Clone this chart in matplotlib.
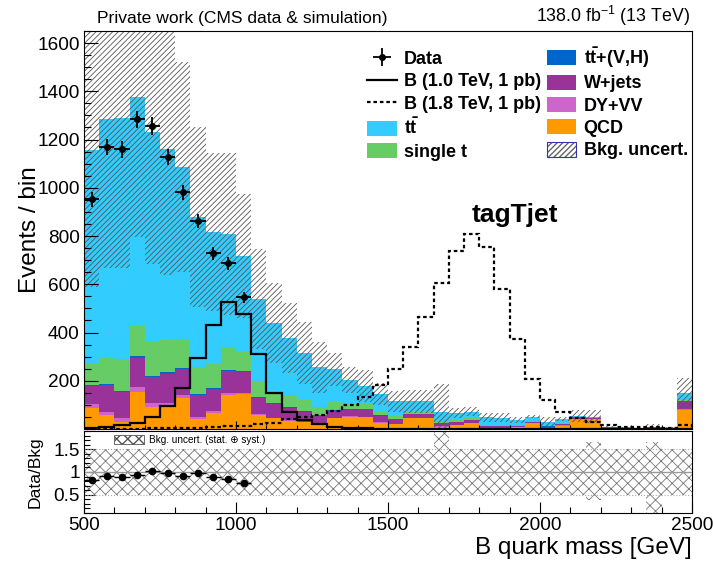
import numpy as np
import matplotlib
matplotlib.use('Agg')
import matplotlib.pyplot as plt
from matplotlib.patches import Patch
from matplotlib.lines import Line2D
from matplotlib.ticker import MultipleLocator, FixedLocator, FuncFormatter
from matplotlib.legend_handler import HandlerTuple

plt.rcParams['font.family'] = ['Liberation Sans', 'DejaVu Sans']
plt.rcParams['mathtext.fontset'] = 'custom'
plt.rcParams['mathtext.rm'] = 'Liberation Sans'
plt.rcParams['mathtext.bf'] = 'Liberation Sans:bold'
plt.rcParams['mathtext.it'] = 'Liberation Sans:italic'

# ---------------- data ----------------
x_min, x_max, n_bins = 500, 2500, 40

qcd = [88, 58, 30, 155, 90, 93, 128, 40, 65, 141, 144, 58, 44, 34, 28, 24, 44, 51, 48, 26,
       20, 45, 45, 10, 17, 24, 5, 5, 8, 24, 3, 14, 40, 40, 3, 2, 1, 3, 1.5, 79]
dyvv = [16, 14, 17, 18, 16, 16, 13, 11, 10, 7, 6, 4, 3, 3, 2, 2, 2, 2, 2, 2,
        2, 2, 2, 2, 1, 1, 1, 1, 1, 1, 1, 1, 1, 1, 0.5, 0.5, 0.3, 0.5, 0.3, 3]
wjets = [74, 110, 108, 123, 108, 120, 106, 89, 90, 92, 86, 68, 57, 51, 42, 32, 30, 26, 32, 26,
         18, 16, 16, 12, 12, 12, 6, 5, 4, 5, 6, 6, 7, 6, 3, 2, 1.5, 3, 2, 35]
ttvh = [4, 5, 4, 5, 6, 6, 6, 5, 5, 6, 4, 3, 2, 2, 2, 2, 2, 2, 2, 2,
        1, 1, 1, 1, 1, 1, 0.5, 0.5, 0.5, 0.5, 0.5, 0.5, 0.5, 0.5, 0.2, 0.2, 0.2, 0.2, 0.2, 1]
single_t = [90, 107, 130, 129, 144, 134, 119, 111, 99, 93, 78, 67, 38, 51, 46, 32, 33, 25, 25, 16,
            14, 8, 8, 5, 6, 6, 4.5, 5, 2, 2, 2, 1.5, 1, 1, 1, 1, 0.5, 1, 0.5, 5]
ttbar = [884, 990, 1000, 945, 868, 790, 715, 621, 547, 469, 399, 339, 294, 235, 196, 164, 136, 97, 69, 73,
         60, 43, 43, 42, 28, 28, 31, 31, 21.5, 18.5, 17.5, 17, 4.5, 2.5, 2.3, 2.3, 1.5, 2.3, 1.5, 25]

bkg_unc = [566, 618, 623, 578, 550, 520, 435, 373, 327, 335, 257, 208, 166, 145, 129, 106, 67, 55, 67, 44,
           43, 47, 47, 114, 20, 20, 17, 17, 11, 7, 18, 8, 25, 28, 2, 2, 2, 11, 2, 62]

ratio_unc_up = [0.5] * 23 + [1.3] + [0.5] * 9 + [0.65] + [0.5] * 3 + [0.65] + [0.5] * 2
ratio_unc_dn = [0.5] * 23 + [0.5] + [0.5] * 9 + [0.62] + [0.5] * 3 + [1.0] + [0.5] * 2

data = [952, 1170, 1159, 1284, 1256, 1126, 981, 863, 728, 687, 546]

sig_b10 = [3, 7, 15, 26, 51, 94, 169, 293, 432, 525, 478, 311, 149, 70, 37, 19, 10, 5, 3, 2,
           2, 1, 1, 1, 1, 1, 1, 1, 1, 1, 1, 1, 1, 1, 1, 1, 1, 1, 1, 2]
sig_b18 = [0, 0, 1, 2, 3, 3, 4, 5, 8, 11, 14, 21, 26, 40, 51, 58, 75, 99, 132, 182,
           250, 341, 466, 604, 739, 808, 753, 580, 372, 207, 120, 69, 44, 30, 17, 10, 8, 8, 6, 17]

bkg_names = ['QCD', 'DY+VV', 'W+jets', r'$\mathbf{t\bar{t}}$+(V,H)', 'single t', r'$\mathbf{t\bar{t}}$']
bkg_colors = ['#FF9900', '#CC66CC', '#993399', '#0066CC', '#66CC66', '#33CCFF']

# ---------------- figure ----------------
W, H = 713, 567
fig = plt.figure(figsize=(W / 100, H / 100), dpi=100)
ax = fig.add_axes([84 / W, 1 - 429 / H, 608 / W, 398 / H])
rax = fig.add_axes([84 / W, 1 - 513 / H, 608 / W, 82 / H])

edges = np.linspace(x_min, x_max, n_bins + 1)
centers = 0.5 * (edges[1:] + edges[:-1])
halfw = 0.5 * np.diff(edges)

components = [qcd, dyvv, wjets, ttvh, single_t, ttbar]
base = np.zeros(n_bins)
for vals, col in zip(components, bkg_colors):
    top = base + np.asarray(vals, float)
    ax.stairs(top, edges, baseline=base, fill=True, facecolor=col, edgecolor='none', linewidth=0)
    base = top
total = base
unc = np.asarray(bkg_unc, float)

with plt.rc_context({'hatch.linewidth': 0.6}):
    ax.stairs(total + unc, edges, baseline=np.clip(total - unc, 0, None), fill=True,
              facecolor='none', edgecolor='#555555', hatch='//////', linewidth=0)

ax.stairs(sig_b10, edges, color='black', linewidth=1.6)
ax.stairs(sig_b18, edges, color='black', linewidth=1.6, linestyle=(0, (1.6, 1.3)))

nd = len(data)
data_arr = np.asarray(data, float)
eb = ax.errorbar(centers[:nd], data_arr, xerr=halfw[:nd], yerr=np.sqrt(data_arr), fmt='o',
                 color='black', ms=4, elinewidth=1.3, capsize=0)

ax.set_xlim(x_min, x_max)
ax.set_ylim(0, 1650)
ax.yaxis.set_major_locator(MultipleLocator(200))
ax.yaxis.set_minor_locator(MultipleLocator(50))
ax.yaxis.set_major_formatter(FuncFormatter(lambda v, p: '' if v == 0 else f'{v:.0f}'))
ax.xaxis.set_major_locator(MultipleLocator(500))
ax.xaxis.set_minor_locator(MultipleLocator(100))
ax.tick_params(axis='y', which='major', direction='in', length=10, width=0.8, labelsize=13.7, pad=3)
ax.tick_params(axis='y', which='minor', direction='in', length=5, width=0.8)
ax.tick_params(axis='x', which='major', direction='in', length=6, width=0.8, labelbottom=False)
ax.tick_params(axis='x', which='minor', direction='in', length=3, width=0.8)
for s in ax.spines.values():
    s.set_linewidth(0.8)

# legend
with plt.rc_context({'hatch.linewidth': 0.6}):
    unc_handle = (Patch(facecolor='white', edgecolor='#666666', hatch='//////', linewidth=0),
                  Patch(facecolor='none', edgecolor='#3333AA', linewidth=0.8))
handles = [eb,
           Line2D([], [], color='black', lw=1.6),
           Line2D([], [], color='black', lw=1.6, linestyle=(0, (1.6, 1.3))),
           Patch(facecolor=bkg_colors[5], edgecolor='none'),
           Patch(facecolor=bkg_colors[4], edgecolor='none'),
           Patch(facecolor=bkg_colors[3], edgecolor='none'),
           Patch(facecolor=bkg_colors[2], edgecolor='none'),
           Patch(facecolor=bkg_colors[1], edgecolor='none'),
           Patch(facecolor=bkg_colors[0], edgecolor='none'),
           unc_handle]
labels = ['Data', 'B (1.0 TeV, 1 pb)', 'B (1.8 TeV, 1 pb)', bkg_names[5], bkg_names[4],
          bkg_names[3], bkg_names[2], bkg_names[1], bkg_names[0], 'Bkg. uncert.']
ax.legend(handles, labels, ncol=2, loc='upper left', bbox_to_anchor=(367 / W, 1 - 45 / H),
          bbox_transform=fig.transFigure, frameon=False,
          prop={'weight': 'bold', 'size': 13.0}, handlelength=1.65, handleheight=0.89,
          handletextpad=0.4, columnspacing=0.3, labelspacing=0.26, borderpad=0, borderaxespad=0,
          handler_map={tuple: HandlerTuple(ndivide=1, pad=0)})

fig.text(515 / W, 1 - 215 / H, 'tagTjet', ha='center', va='center', fontsize=19, weight='bold')
fig.text(97 / W, 1 - 18 / H, 'Private work (CMS data & simulation)', ha='left', va='center', fontsize=12.6)
fig.text(690 / W, 1 - 16 / H, r'138.0 fb$^{-1}$ (13 TeV)', ha='right', va='center', fontsize=12.8)
fig.text(30 / W, 1 - 230 / H, 'Events / bin', rotation=90, ha='center', va='center', fontsize=17.5)

# ---------------- ratio ----------------
rup = np.asarray(ratio_unc_up, float)
rdn = np.asarray(ratio_unc_dn, float)
with plt.rc_context({'hatch.linewidth': 0.6}):
    rax.stairs(1 + rup, edges, baseline=1 - rdn, fill=True, facecolor='none',
               edgecolor='#777777', hatch='xxx', linewidth=0)
rax.axhline(1.0, color='#999999', lw=1.0)
rax.axhline(0.5, color='#aaaaaa', lw=0.8, ls=':')
rax.axhline(1.5, color='#aaaaaa', lw=0.8, ls=':')
ratio = data_arr / total[:nd]
rax.errorbar(centers[:nd], ratio, xerr=halfw[:nd], yerr=np.sqrt(data_arr) / total[:nd], fmt='o',
             color='black', ms=4.5, elinewidth=1.0, capsize=0)
rax.set_xlim(x_min, x_max)
rax.set_ylim(0.1, 1.9)
rax.yaxis.set_major_locator(FixedLocator([0.5, 1.0, 1.5]))
rax.yaxis.set_major_formatter(FuncFormatter(lambda v, p: f'{v:g}'))
rax.yaxis.set_minor_locator(MultipleLocator(0.1))
rax.xaxis.set_major_locator(MultipleLocator(500))
rax.xaxis.set_minor_locator(MultipleLocator(100))
rax.tick_params(axis='y', which='major', direction='in', length=8, width=0.8, labelsize=13.7, pad=3)
rax.tick_params(axis='y', which='minor', direction='in', length=4, width=0.8)
rax.tick_params(axis='x', which='major', direction='in', length=8, width=0.8, labelsize=13.7, pad=3)
rax.tick_params(axis='x', which='minor', direction='in', length=4, width=0.8)
for s in rax.spines.values():
    s.set_linewidth(0.8)

with plt.rc_context({'hatch.linewidth': 0.6}):
    rleg_patch = Patch(facecolor='white', edgecolor='#555555', hatch='xxx', linewidth=0.6)
rax.legend([rleg_patch], ['Bkg. uncert. (stat. \u2295 syst.)'], loc='upper left',
           bbox_to_anchor=(114 / W, 1 - 435 / H), bbox_transform=fig.transFigure,
           frameon=False, fontsize=7.2, handlelength=3.0, handleheight=0.9,
           handletextpad=0.5, borderpad=0, borderaxespad=0)

fig.text(35 / W, 1 - 472 / H, 'Data/Bkg', rotation=90, ha='center', va='center', fontsize=12.6)
fig.text(692 / W, 1 - 548 / H, 'B quark mass [GeV]', ha='right', va='center', fontsize=17.5)

fig.savefig('out.png', dpi=100)
